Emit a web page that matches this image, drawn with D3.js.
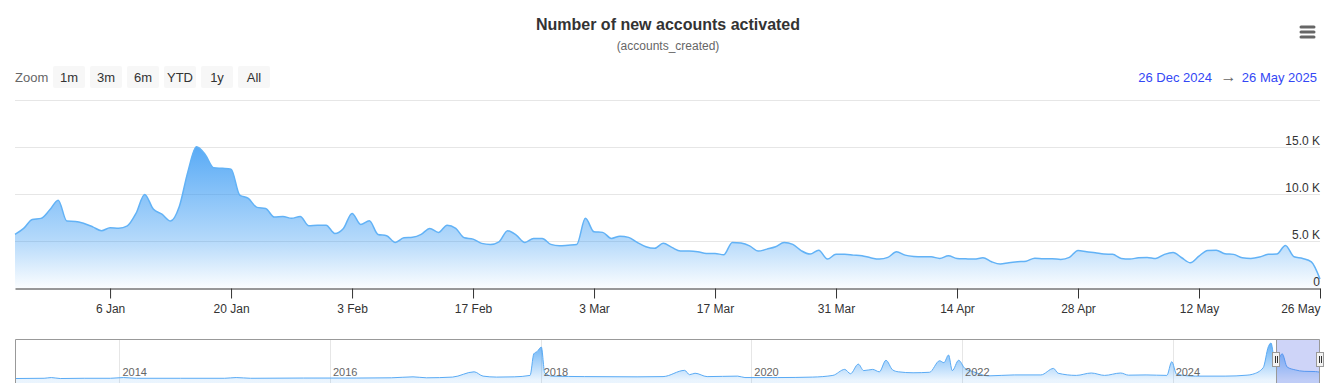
<!DOCTYPE html>
<html>
<head>
<meta charset="utf-8">
<script src="https://cdn.jsdelivr.net/npm/d3@7"></script>
<style>
  body { margin: 0; background: #fff; }
  svg { display: block; font-family: Helvetica, Arial, "Liberation Sans", sans-serif; }
</style>
</head>
<body>
<svg id="chart" width="1331" height="383"></svg>
<script>
// ---------- DATA ----------
const titleText = "Number of new accounts activated";
const subtitleText = "(accounts_created)";
const zoomButtons = ["1m", "3m", "6m", "YTD", "1y", "All"];
const rangeFrom = "26 Dec 2024";
const rangeTo = "26 May 2025";

// daily values (thousands) starting 2024-12-26
const startDate = "2024-12-26";
const dailyValues = [
  5.74, 6.38, 7.34, 7.45, 8.33, 9.39, 7.16, 7.13, 6.91, 6.55,
  6.13, 6.45, 6.41, 6.66, 7.98, 10.0, 8.44, 7.90, 7.16, 8.68,
  12.4, 15.06, 14.25, 12.83, 12.77, 12.69, 9.93, 9.57, 8.62, 8.51,
  7.59, 7.66, 7.45, 7.66, 6.66, 6.73, 6.73, 5.85, 6.38, 7.98,
  6.81, 7.19, 5.74, 5.60, 4.89, 5.38, 5.43, 5.74, 6.38, 5.96,
  6.73, 6.38, 5.38, 5.24, 4.79, 4.68, 4.96, 6.13, 5.67, 4.89,
  5.32, 5.32, 4.68, 4.53, 4.60, 4.68, 7.45, 6.02, 5.96, 5.32,
  5.56, 5.43, 4.89, 4.43, 4.26, 4.79, 4.36, 3.97, 3.97, 3.90,
  3.72, 3.72, 3.57, 4.89, 4.82, 4.53, 3.97, 4.18, 4.43, 4.89,
  4.68, 4.00, 3.65, 4.07, 3.12, 3.62, 3.62, 3.54, 3.47, 3.26,
  3.12, 3.30, 3.90, 3.54, 3.40, 3.36, 3.36, 3.19, 3.47, 3.19,
  3.15, 3.12, 3.26, 2.83, 2.59, 2.73, 2.83, 2.90, 3.22, 3.15,
  3.15, 3.08, 3.30, 4.04, 3.90, 3.79, 3.65, 3.62, 3.19, 3.12,
  3.26, 3.30, 3.19, 3.62, 3.83, 3.26, 2.73, 3.44, 4.04, 4.07,
  3.68, 3.62, 3.26, 3.19, 3.33, 3.62, 3.65, 4.57, 3.36, 3.19,
  2.83, 1.00
];

const xTickDates = ["2025-01-06","2025-01-20","2025-02-03","2025-02-17","2025-03-03","2025-03-17","2025-03-31","2025-04-14","2025-04-28","2025-05-12","2025-05-26"];
const xTickLabels = ["6 Jan","20 Jan","3 Feb","17 Feb","3 Mar","17 Mar","31 Mar","14 Apr","28 Apr","12 May","26 May"];
const yTickValues = [0, 5000, 10000, 15000, 20000];
const yTickLabels = ["0", "5.0 K", "10.0 K", "15.0 K", ""];

// navigator (whole history, thousands)
const navDates = [
  "2013-01-04","2013-04-15","2013-05-10","2013-06-10","2013-09-01","2013-12-01","2014-01-15","2014-03-01",
  "2014-08-01","2015-01-01","2015-02-10","2015-04-01","2015-10-01","2016-04-01","2016-08-01","2016-10-15",
  "2016-12-01","2017-03-01","2017-05-15","2017-06-15","2017-08-01","2017-10-01","2017-11-25","2017-12-08",
  "2017-12-20","2018-01-03","2018-01-15","2018-02-10","2018-06-01","2018-12-01","2019-03-01","2019-05-15",
  "2019-06-01","2019-06-20","2019-08-01","2019-11-15","2019-12-10","2020-04-01","2020-08-01","2020-10-10",
  "2020-11-20","2020-12-10","2021-01-06","2021-01-25","2021-02-25","2021-03-20","2021-04-12","2021-05-05",
  "2021-05-25","2021-07-15","2021-09-10","2021-10-15","2021-10-30","2021-11-15","2021-11-28","2021-12-20",
  "2022-01-10","2022-02-10","2022-04-01","2022-07-01","2022-10-01","2022-11-14","2022-11-30","2023-02-01",
  "2023-03-25","2023-05-10","2023-07-05","2023-08-01","2023-10-01","2023-12-12","2023-12-29","2024-01-15",
  "2024-03-20","2024-07-01","2024-09-15","2024-10-05","2024-11-10","2024-11-28","2024-12-07","2024-12-22",
  "2025-01-15","2025-02-01","2025-03-01","2025-04-01","2025-05-10","2025-05-26"
];
const navValues = [
  0.2, 0.3, 0.6, 0.2, 0.3, 0.3, 0.6, 0.3,
  0.3, 0.3, 0.6, 0.3, 0.4, 0.4, 0.5, 0.9,
  0.5, 0.8, 3.0, 1.2, 0.8, 0.9, 1.5, 10.5,
  11.5, 13.3, 2.5, 1.2, 1.0, 0.9, 1.0, 3.6,
  1.8, 2.4, 1.0, 1.2, 0.6, 0.6, 0.8, 1.5,
  4.0, 2.2, 6.2, 3.5, 4.0, 3.0, 7.8, 3.8,
  3.0, 2.6, 2.8, 7.6, 6.8, 10.0, 3.5, 7.8,
  4.5, 3.0, 1.3, 1.7, 1.7, 4.4, 2.4, 1.5,
  2.5, 1.5, 2.5, 1.6, 1.7, 1.5, 7.2, 2.0,
  1.2, 1.2, 1.6, 2.0, 4.7, 13.5, 15.0, 6.0,
  10.5, 5.0, 3.8, 3.2, 3.1, 2.8
];
const navYearTicks = ["2014-01-01","2016-01-01","2018-01-01","2020-01-01","2022-01-01","2024-01-01"];
const navYearLabels = ["2014","2016","2018","2020","2022","2024"];

// ---------- DRAW ----------
const svg = d3.select("#chart");
const parse = d3.utcParse("%Y-%m-%d");
const start = parse(startDate);
const series = dailyValues.map((v, i) => ({ date: d3.utcDay.offset(start, i), value: v * 1000 }));

const x = d3.scaleUtc().domain([start, parse("2025-05-26")]).range([15, 1320]);
const y = d3.scaleLinear().domain([0, 20000]).range([288.4, 100.4]);

const defs = svg.append("defs");
const grad = defs.append("linearGradient").attr("id", "areaGrad")
  .attr("gradientUnits", "userSpaceOnUse").attr("x1", 0).attr("x2", 0).attr("y1", 146).attr("y2", 288);
grad.append("stop").attr("offset", "0%").attr("stop-color", "#2f95f3").attr("stop-opacity", 0.8);
grad.append("stop").attr("offset", "66%").attr("stop-color", "#2f95f3").attr("stop-opacity", 0.36);
grad.append("stop").attr("offset", "100%").attr("stop-color", "#2f95f3").attr("stop-opacity", 0.02);

// Title
svg.append("text").attr("x", 668).attr("y", 30).attr("text-anchor", "middle")
  .attr("font-size", 16).attr("font-weight", "bold").attr("fill", "#333").text(titleText);
svg.append("text").attr("x", 668).attr("y", 50).attr("text-anchor", "middle")
  .attr("font-size", 12).attr("fill", "#666").text(subtitleText);

// Hamburger
[27, 32, 37].forEach(yy => {
  svg.append("line").attr("x1", 1301).attr("x2", 1314).attr("y1", yy).attr("y2", yy)
    .attr("stroke", "#666").attr("stroke-width", 3).attr("stroke-linecap", "round");
});

// Range selector
svg.append("text").attr("x", 15).attr("y", 82).attr("font-size", 13).attr("fill", "#666").text("Zoom");
const btnG = svg.append("g");
zoomButtons.forEach((b, i) => {
  const bx = 53 + i * 37;
  btnG.append("rect").attr("x", bx).attr("y", 66).attr("width", 32).attr("height", 22)
    .attr("rx", 2).attr("fill", "#f7f7f7");
  btnG.append("text").attr("x", bx + 16).attr("y", 82).attr("text-anchor", "middle")
    .attr("font-size", 13).attr("fill", "#333").text(b);
});
svg.append("text").attr("x", 1212).attr("y", 82).attr("text-anchor", "end")
  .attr("font-size", 13).attr("fill", "#3347f5").text(rangeFrom);
svg.append("text").attr("x", 1228.5).attr("y", 82).attr("text-anchor", "middle")
  .attr("font-size", 16).attr("fill", "#666").text("\u2192");
svg.append("text").attr("x", 1317).attr("y", 82).attr("text-anchor", "end")
  .attr("font-size", 13).attr("fill", "#3347f5").text(rangeTo);

// Gridlines
yTickValues.forEach(v => {
  if (v === 0) return;
  const yy = Math.round(y(v)) + 0.5;
  svg.append("line").attr("x1", 15).attr("x2", 1320).attr("y1", yy).attr("y2", yy)
    .attr("stroke", "#e6e6e6").attr("stroke-width", 1);
});

// Area + line
const area = d3.area().x(d => x(d.date)).y0(y(0)).y1(d => y(d.value)).curve(d3.curveMonotoneX);
const line = d3.line().x(d => x(d.date)).y(d => y(d.value)).curve(d3.curveMonotoneX);
svg.append("path").datum(series).attr("d", area).attr("fill", "url(#areaGrad)");
svg.append("path").datum(series).attr("d", line).attr("fill", "none")
  .attr("stroke", "#62b2f6").attr("stroke-width", 1.5);

// Y labels
yTickValues.forEach((v, i) => {
  if (!yTickLabels[i]) return;
  svg.append("text").attr("x", 1320).attr("y", y(v) - 2.5).attr("text-anchor", "end")
    .attr("font-size", 12).attr("fill", "#333").text(yTickLabels[i]);
});

// X axis
const xAxis = d3.axisBottom(x)
  .tickValues(xTickDates.map(parse))
  .tickFormat((d, i) => xTickLabels[i])
  .tickSize(10).tickSizeOuter(0).tickPadding(6);
const gx = svg.append("g").attr("transform", `translate(0,${Math.round(y(0)) + 0.5})`).call(xAxis);
gx.select(".domain").attr("stroke", "#333");
gx.selectAll(".tick line").attr("stroke", "#333");
gx.selectAll(".tick text").attr("font-size", 12).attr("fill", "#333")
  .attr("font-family", "Helvetica, Arial, 'Liberation Sans', sans-serif");
// keep last label inside the chart (right-aligned at plot edge)
gx.selectAll(".tick text").filter((d, i) => i === xTickDates.length - 1)
  .attr("text-anchor", "end");

// Navigator
const navTop = 339.5, navBottom = 379;
const nx = d3.scaleUtc().domain([parse("2013-01-04"), parse("2025-05-26")]).range([15, 1320]);
const ny = d3.scaleLinear().domain([0, 15000]).range([navBottom, 343]);
const navSeries = navDates.map((d, i) => ({ date: parse(d), value: navValues[i] * 1000 }));

const ngrad = defs.append("linearGradient").attr("id", "navGrad")
  .attr("gradientUnits", "userSpaceOnUse").attr("x1", 0).attr("x2", 0).attr("y1", 343).attr("y2", 380);
ngrad.append("stop").attr("offset", "0%").attr("stop-color", "#2f95f3").attr("stop-opacity", 0.75);
ngrad.append("stop").attr("offset", "100%").attr("stop-color", "#2f95f3").attr("stop-opacity", 0.1);

navYearTicks.forEach((d, i) => {
  const xx = Math.round(nx(parse(d))) + 0.5;
  svg.append("line").attr("x1", xx).attr("x2", xx).attr("y1", navTop).attr("y2", 383)
    .attr("stroke", "#e6e6e6");
});

const navArea = d3.area().x(d => nx(d.date)).y0(navBottom + 4).y1(d => ny(d.value)).curve(d3.curveMonotoneX);
const navLine = d3.line().x(d => nx(d.date)).y(d => ny(d.value)).curve(d3.curveMonotoneX);
svg.append("path").datum(navSeries).attr("d", navArea).attr("fill", "url(#navGrad)");
svg.append("path").datum(navSeries).attr("d", navLine).attr("fill", "none")
  .attr("stroke", "#5aabf5").attr("stroke-width", 1);

navYearTicks.forEach((d, i) => {
  svg.append("text").attr("x", nx(parse(d)) + 3).attr("y", 376)
    .attr("font-size", 11).attr("fill", "#666").text(navYearLabels[i]);
});

// selection mask
const selL = Math.round(nx(start)), selR = 1320;
svg.append("rect").attr("x", selL).attr("y", navTop).attr("width", selR - selL).attr("height", 383 - navTop)
  .attr("fill", "rgba(80,100,230,0.28)");

// outline
svg.append("path")
  .attr("d", `M15.5,383 L15.5,${navTop} L${selR - 0.5},${navTop} L${selR - 0.5},383 M${selL + 0.5},${navTop} L${selL + 0.5},383`)
  .attr("fill", "none").attr("stroke", "#999").attr("stroke-width", 1);

// handles
[selL, selR].forEach(hx => {
  const g = svg.append("g");
  g.append("rect").attr("x", hx - 4 + 0.5).attr("y", 352.5).attr("width", 7).attr("height", 14)
    .attr("fill", "#f2f2f2").attr("stroke", "#999");
  g.append("line").attr("x1", hx - 1 + 0.5).attr("x2", hx - 1 + 0.5).attr("y1", 356).attr("y2", 363).attr("stroke", "#333");
  g.append("line").attr("x1", hx + 1 + 0.5).attr("x2", hx + 1 + 0.5).attr("y1", 356).attr("y2", 363).attr("stroke", "#333");
});
</script>
</body>
</html>
